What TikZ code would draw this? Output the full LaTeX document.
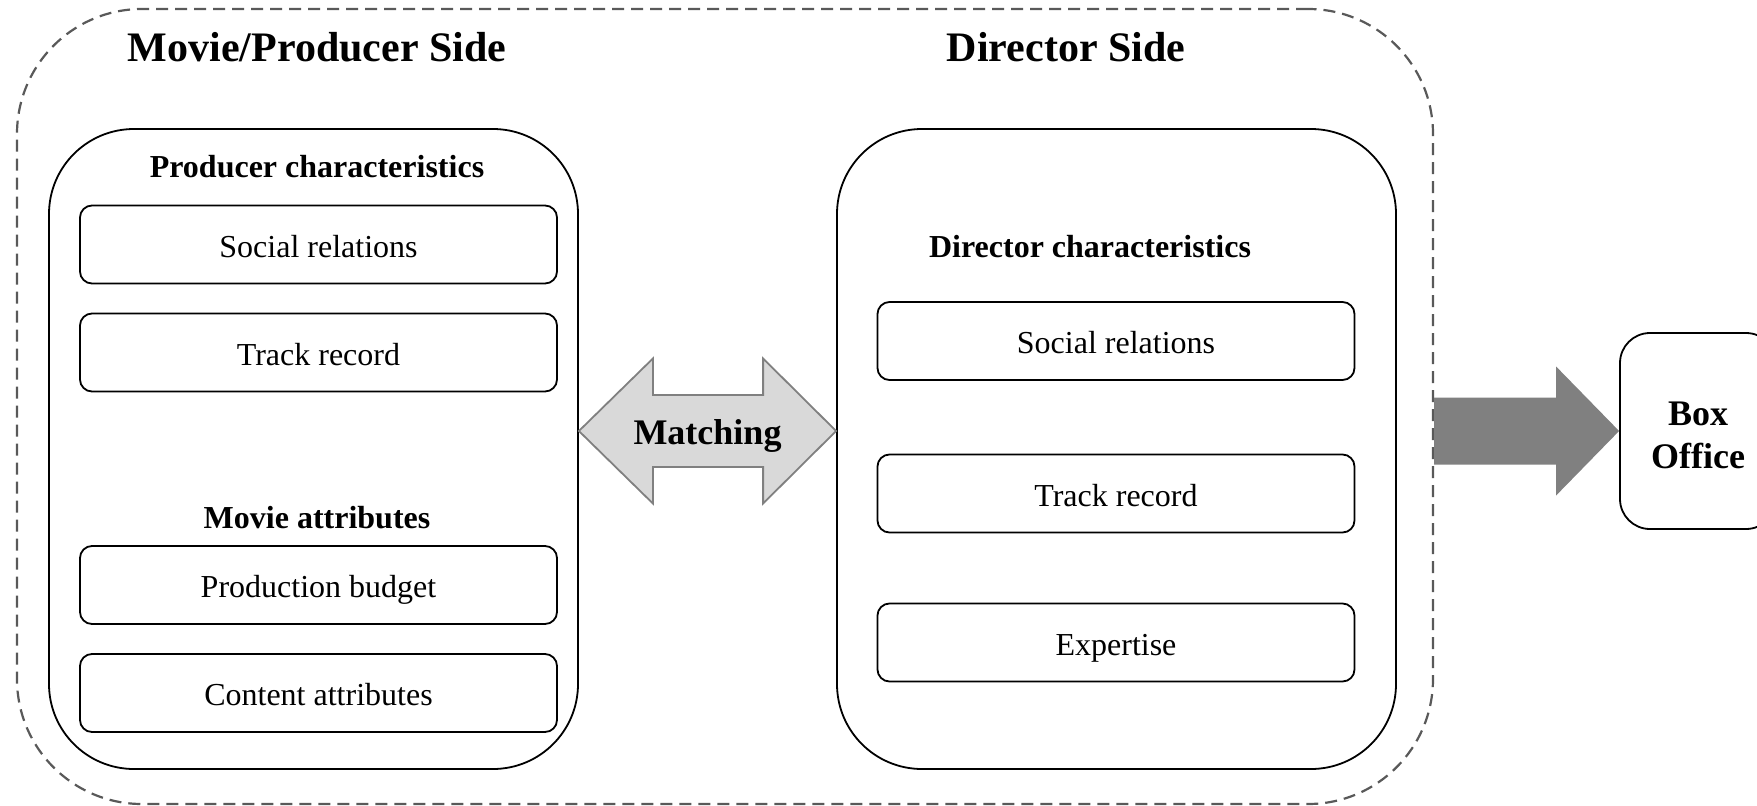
\documentclass[tikz,border=0pt]{standalone}
\usepackage{fontspec}
\setmainfont{Liberation Serif}
\usetikzlibrary{calc}
\definecolor{dashgray}{HTML}{595959}
\definecolor{matchfill}{HTML}{D9D9D9}
\definecolor{matchline}{HTML}{808080}
\definecolor{flowfill}{HTML}{808080}
\tikzset{
  panel/.style={draw=black, line width=1.8pt, rounded corners=85pt, inner sep=0pt},
  itembox/.style={draw=black, line width=1.8pt, rounded corners=12pt, minimum width=477pt,
    minimum height=78pt, inner sep=0pt, text height=25pt, text depth=0pt,
    font=\fontsize{32}{38}\selectfont},
  heading/.style={font=\fontsize{32}{38}\selectfont\bfseries, inner sep=0pt},
  sidetitle/.style={font=\fontsize{42}{50}\selectfont\bfseries, inner sep=0pt},
  outcome/.style={draw=black, line width=1.8pt, rounded corners=30pt, minimum width=156pt,
    minimum height=196pt, inner sep=0pt},
}
\begin{document}
\begin{tikzpicture}[x=1pt,y=-1pt]
\useasboundingbox (0,0) rectangle (1757,806);

% outer dashed frame around both sides
\node[draw=dashgray, line width=2.2pt, dash pattern=on 12pt off 7pt, rounded corners=125pt,
      minimum width=1416pt, minimum height=795pt, inner sep=0pt] (frame) at (725,406.5) {};

% side titles
\node[sidetitle] (ptitle) at (317,47) {Movie/Producer Side};
\node[sidetitle] (dtitle) at (1066,47) {Director Side};

% producer panel
\node[panel, minimum width=529pt, minimum height=640pt] (left) at (313.5,449) {};
\node[heading] (pchar) at (317,167) {Producer characteristics};
\node[itembox] (psoc) at (318.5,244.5) {Social relations};
\node[itembox] (ptrack) at (318.5,352.5) {Track record};
\node[heading] (mattr) at (317,518) {Movie attributes};
\node[itembox] (budget) at (318.5,585) {Production budget};
\node[itembox] (content) at (318.5,693) {Content attributes};

% director panel
\node[panel, minimum width=559pt, minimum height=640pt] (right) at (1116.5,449) {};
\node[heading] (dchar) at (1090,247) {Director characteristics};
\node[itembox] (dsoc) at (1116,341) {Social relations};
\node[itembox] (dtrack) at (1116,493.5) {Track record};
\node[itembox] (dexp) at (1116,642.5) {Expertise};

% matching double arrow between the panels
\coordinate (ml) at (left.east |- 0,431);
\coordinate (mr) at (right.west |- 0,431);
\draw[draw=matchline, fill=matchfill, line width=1.8pt, line join=miter]
  (ml) -- ($(ml)+(74,-72.5)$) -- ($(ml)+(74,-36)$) -- ($(mr)+(-73,-36)$) -- ($(mr)+(-73,-72.5)$)
  -- (mr) -- ($(mr)+(-73,72.5)$) -- ($(mr)+(-73,36)$) -- ($(ml)+(74,36)$) -- ($(ml)+(74,72.5)$) -- cycle;
\node[font=\fontsize{36}{43}\selectfont\bfseries, inner sep=0pt] (match)
  at ($($(ml)!0.5!(mr)$)+(0,4.5)$) {Matching};

% outcome box and block arrow leading to it
\node[outcome] (box) at (1698,431) {};
\node[align=center, inner sep=0pt, font=\fontsize{36}{43}\selectfont\bfseries] (boxtext)
  at (1698,435) {Box\\Office};
\coordinate (fa) at (frame.east |- box.west);
\fill[flowfill] ($(fa)+(0,-33.5)$) -- ($(box.west)+(-63,-33.5)$) -- ($(box.west)+(-63,-64.5)$)
  -- (box.west) -- ($(box.west)+(-63,64.5)$) -- ($(box.west)+(-63,33.5)$) -- ($(fa)+(0,33.5)$) -- cycle;
\end{tikzpicture}
\end{document}
